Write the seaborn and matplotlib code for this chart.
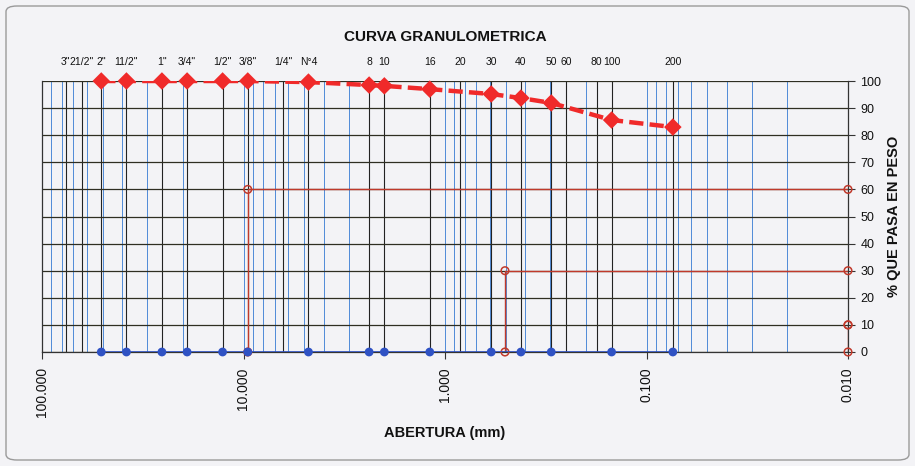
import numpy as np
import pandas as pd
import matplotlib
matplotlib.use("Agg")
import matplotlib.pyplot as plt
import seaborn as sns
from matplotlib.patches import FancyBboxPatch
from matplotlib.transforms import blended_transform_factory

# ---------------- data ----------------
sieve_labels = ['3"', '21/2"', '2"', '11/2"', '1"', '3/4"', '1/2"', '3/8"', '1/4"', 'N°4',
                '8', '10', '16', '20', '30', '40', '50', '60', '80', '100', '200']
sieve_mm = [76.2, 63.5, 50.8, 38.1, 25.4, 19.05, 12.7, 9.525, 6.35, 4.76,
            2.38, 2.00, 1.19, 0.84, 0.59, 0.42, 0.297, 0.25, 0.177, 0.149, 0.074]
pct_passing = [np.nan, np.nan, 100, 100, 100, 100, 100, 100, np.nan, 99.6,
               98.5, 98.2, 97.0, np.nan, 95.2, 93.7, 91.9, np.nan, np.nan, 85.6, 83.0]

d_labels = ['D60', 'D30', 'D10']
d_sizes = [9.525, 0.504, 0.010]
d_pct = [60, 30, 10]

x_ticks = [100, 10, 1, 0.1, 0.01]
x_tick_labels = ['100.000', '10.000', '1.000', '0.100', '0.010']
y_ticks = [0, 10, 20, 30, 40, 50, 60, 70, 80, 90, 100]

title = 'CURVA GRANULOMETRICA'
xlabel = 'ABERTURA (mm)'
ylabel = '% QUE PASA EN PESO'

df = pd.DataFrame({'label': sieve_labels, 'mm': sieve_mm, 'pct': pct_passing})
dfc = df.dropna()
df_zero = dfc.assign(zero=0.0)

# ---------------- style ----------------
sns.set_style("white")
plt.rcParams['font.family'] = ['Liberation Sans', 'DejaVu Sans']
plt.rcParams['text.color'] = '#111111'
plt.rcParams['xtick.color'] = '#111111'
plt.rcParams['ytick.color'] = '#111111'
plt.rcParams['axes.labelcolor'] = '#111111'

BG = '#f3f3f6'
RED = '#f02a2a'
DRED = '#c0392b'
BLUE = '#2f52c4'
GBLUE = '#4f8ad8'
GDARK = '#2e2e22'

fig = plt.figure(figsize=(9.15, 4.66), dpi=100, facecolor=BG)
ax = fig.add_axes([42/915, 1-352/466, (848-42)/915, (352-81)/466])
ax.set_facecolor(BG)

ax.set_xscale('log')
ax.set_xlim(100, 0.01)
ax.set_ylim(0, 100)

# minor log grid (blue)
for k in [-2, -1, 0, 1]:
    for m in range(2, 10):
        ax.axvline(m * 10.0**k, color=GBLUE, lw=0.7, zorder=1)
for k in [-2, -1, 0, 1]:
    ax.axvline(10.0**k, color=GBLUE, lw=0.7, zorder=1)
# sieve lines (black)
for s in sieve_mm:
    ax.axvline(s, color='#222222', lw=0.8, zorder=1.5)
# horizontal grid
for yv in y_ticks:
    ax.axhline(yv, color=GDARK, lw=0.9, zorder=1.6)

# D lines (red)
right_edge = 0.01
for ds, dp in zip(d_sizes, d_pct):
    ax.plot([ds, ds], [0, dp], color=DRED, lw=1.0, zorder=2)
    ax.plot([ds, right_edge], [dp, dp], color=DRED, lw=1.0, zorder=2)
d_pts_x = list(d_sizes) + list(d_sizes) + [right_edge] * len(d_sizes)
d_pts_y = list(d_pct) + [0] * len(d_sizes) + list(d_pct)
sns.scatterplot(x=d_pts_x, y=d_pts_y, ax=ax, marker='o', s=30,
                facecolor='none', edgecolor=DRED, linewidth=1.1, zorder=3, clip_on=False)

# blue base points
ax.plot([dfc['mm'].max(), dfc['mm'].min()], [0, 0], color=BLUE, lw=1.2, zorder=3.5)
sns.scatterplot(data=df_zero, x='mm', y='zero', ax=ax, color=BLUE, s=40,
                edgecolor='none', zorder=4, clip_on=False)

# grading curve
sns.lineplot(data=dfc, x='mm', y='pct', ax=ax, color=RED, lw=3.2, zorder=5,
             dashes=False, linestyle=(0, (3.2, 1.4)), estimator=None, sort=False)
sns.scatterplot(data=dfc, x='mm', y='pct', ax=ax, color=RED, marker='D', s=80,
                edgecolor='none', zorder=6, clip_on=False)

# sieve labels on top
trans = blended_transform_factory(ax.transData, ax.transAxes)
for lab, s in zip(sieve_labels, sieve_mm):
    ax.text(s, 1.07, lab, transform=trans, ha='center', va='center', fontsize=7.5,
            color='#111111')

# axes formatting
ax.set_xticks(x_ticks)
ax.set_xticklabels(x_tick_labels, rotation=90, fontsize=10)
ax.xaxis.set_minor_locator(matplotlib.ticker.NullLocator())
ax.yaxis.tick_right()
ax.yaxis.set_label_position('right')
ax.set_yticks(y_ticks)
ax.set_yticklabels([str(v) for v in y_ticks], fontsize=9)
ax.tick_params(axis='y', direction='out', length=5, width=0.8, color='#333333', pad=4,
               right=True, left=False)
ax.tick_params(axis='x', direction='out', length=5, width=0.8, color='#333333', pad=6,
               bottom=True)
ax.set_xlabel(xlabel, fontsize=10.5, fontweight='bold', labelpad=6)
ax.set_ylabel(ylabel, fontsize=10.5, fontweight='bold', labelpad=4)
ax.set_title(title, fontsize=11, fontweight='bold', pad=29, color='#111111')
for sp in ax.spines.values():
    sp.set_color('#333333')
    sp.set_linewidth(0.9)
ax.spines['top'].set_visible(False)

# outer rounded frame
frame = FancyBboxPatch((6/915, 6/466), 903/915, 454/466,
                       boxstyle='round,pad=0,rounding_size=0.012',
                       transform=fig.transFigure, fill=False,
                       edgecolor='#9a9a9a', lw=1.0)
fig.patches.append(frame)

fig.savefig('out.png', dpi=100, facecolor=BG)
